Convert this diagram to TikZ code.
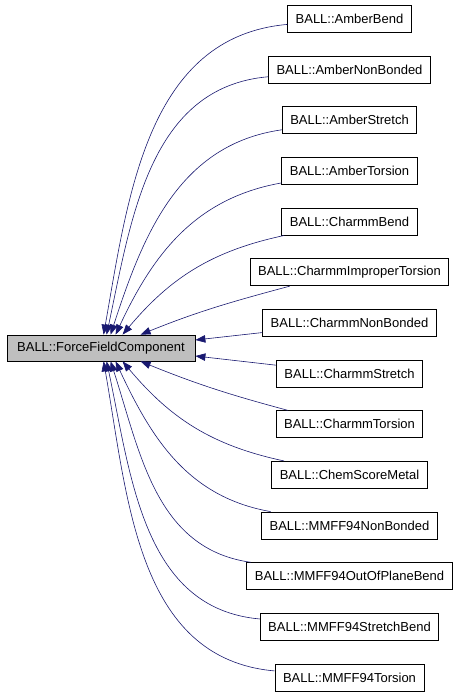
\documentclass[tikz,border=0pt]{standalone}
\usepackage{fontspec}
\setmainfont{Liberation Sans}
\usetikzlibrary{arrows.meta}
\definecolor{edgeblue}{HTML}{191970}
\definecolor{basegray}{HTML}{BFBFBF}
\tikzset{
  cls/.style={draw=black, line width=0.8pt, fill=white, minimum height=27pt,
    inner xsep=8pt, inner ysep=0pt, font=\fontsize{13}{15}\selectfont, text=black},
  basecls/.style={cls, fill=basegray, minimum width=188pt, minimum height=26pt},
  inh/.style={draw=edgeblue, line width=0.6pt, -{Triangle[length=10pt,width=7.5pt]}}
}
\begin{document}
\begin{tikzpicture}[x=1pt,y=1pt]
\useasboundingbox (0,0) rectangle (461,-696);
\def\cx{349.5}
\node[cls] (r0) at (\cx,-19) {BALL::AmberBend};
\node[cls] (r1) at (\cx,-69.65) {BALL::AmberNonBonded};
\node[cls] (r2) at (\cx,-120.3) {BALL::AmberStretch};
\node[cls] (r3) at (\cx,-170.95) {BALL::AmberTorsion};
\node[cls] (r4) at (\cx,-221.6) {BALL::CharmmBend};
\node[cls] (r5) at (\cx,-272.25) {BALL::CharmmImproperTorsion};
\node[cls] (r6) at (\cx,-322.9) {BALL::CharmmNonBonded};
\node[cls] (r7) at (\cx,-373.55) {BALL::CharmmStretch};
\node[cls] (r8) at (\cx,-424.2) {BALL::CharmmTorsion};
\node[cls] (r9) at (\cx,-474.85) {BALL::ChemScoreMetal};
\node[cls] (r10) at (\cx,-525.5) {BALL::MMFF94NonBonded};
\node[cls] (r11) at (\cx,-576.15) {BALL::MMFF94OutOfPlaneBend};
\node[cls] (r12) at (\cx,-626.8) {BALL::MMFF94StretchBend};
\node[cls] (r13) at (\cx,-677.45) {BALL::MMFF94Torsion};
\node[basecls] (L) at (101,-348) {BALL::ForceFieldComponent};
% edges (upper half)
\draw[inh] (r0) to[out=185,in=80] ([xshift=97pt]L.north west);
\draw[inh] (r1) to[out=185,in=78] ([xshift=100pt]L.north west);
\draw[inh] (r2) to[out=188,in=72] ([xshift=104pt]L.north west);
\draw[inh] (r3) to[out=190,in=65] ([xshift=109pt]L.north west);
\draw[inh] (r4) to[out=192,in=50] ([xshift=116pt]L.north west);
\draw[inh] ([xshift=40pt]r5.south west) to[out=195,in=22] ([xshift=134pt]L.north west);
% straight edges
\draw[inh] (r6) -- ([yshift=8pt]L.east);
\draw[inh] (r7) -- ([yshift=-8pt]L.east);
% edges (lower half)
\draw[inh] ([xshift=12pt]r8.north west) to[out=165,in=-22] ([xshift=134pt]L.south west);
\draw[inh] (r9) to[out=168,in=-50] ([xshift=116pt]L.south west);
\draw[inh] (r10) to[out=170,in=-65] ([xshift=109pt]L.south west);
\draw[inh] (r11) to[out=172,in=-72] ([xshift=104pt]L.south west);
\draw[inh] (r12) to[out=175,in=-78] ([xshift=100pt]L.south west);
\draw[inh] (r13) to[out=175,in=-80] ([xshift=97pt]L.south west);
\end{tikzpicture}
\end{document}
